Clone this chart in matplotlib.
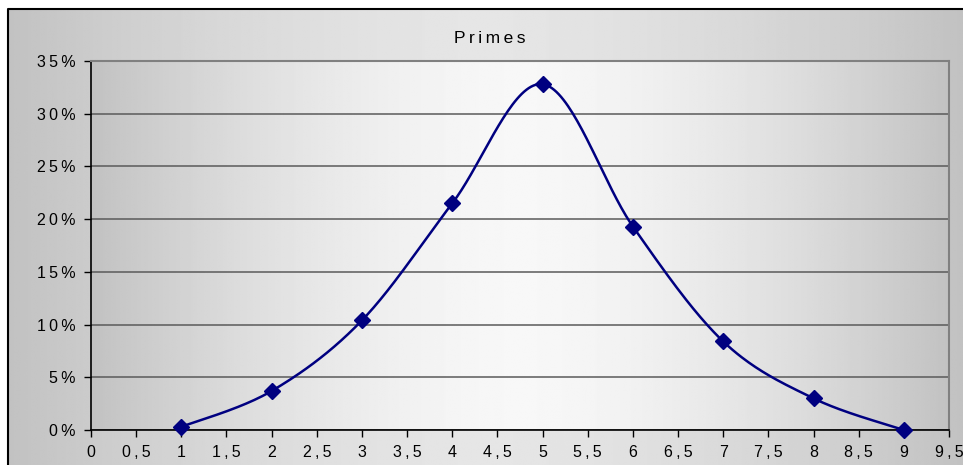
import numpy as np
import matplotlib.pyplot as plt
from matplotlib.ticker import MultipleLocator, FuncFormatter

plt.rcParams['font.family'] = ['Liberation Sans', 'DejaVu Sans']

# valeurs de la série
x_vals = [1, 2, 3, 4, 5, 6, 7, 8, 9]
y_vals = [0.3, 3.7, 10.4, 21.5, 32.8, 19.3, 8.4, 3.0, 0.0]
titre = "Primes"

ESP = '\u2009'  # espace fine entre les caractères


def espacer(txt):
    return ESP.join(txt)


def lissage(xs, ys, n=40):
    # courbe lissée type tableur : segments de Bézier cubiques (Catmull-Rom)
    p = np.column_stack([xs, ys]).astype(float)
    p = np.vstack([p[0], p, p[-1]])
    out = []
    for i in range(1, len(p) - 2):
        p0, p1, p2, p3 = p[i - 1], p[i], p[i + 1], p[i + 2]
        c1 = p1 + (p2 - p0) / 6
        c2 = p2 - (p3 - p1) / 6
        t = np.linspace(0, 1, n)[:, None]
        seg = (1 - t) ** 3 * p1 + 3 * (1 - t) ** 2 * t * c1 + 3 * (1 - t) * t ** 2 * c2 + t ** 3 * p2
        out.append(seg)
    out = np.vstack(out)
    return out[:, 0], out[:, 1]


def degrade(ax, bas, haut, extent):
    # dégradé horizontal : gris sur les bords, clair au centre
    u = np.linspace(-1, 1, 400)
    v = bas + (haut - bas) * (1 - np.abs(u) ** 1.6)
    img = np.tile(v, (2, 1))
    ax.imshow(img, cmap='gray', vmin=0, vmax=1, aspect='auto', extent=extent,
              interpolation='bilinear', zorder=0)


fig = plt.figure(figsize=(9.63, 4.65), dpi=100)
fig.patch.set_facecolor('white')

# fond de la zone de graphique
bg = fig.add_axes([0, 0, 1, 1])
bg.set_xlim(0, 963)
bg.set_ylim(465, 0)
bg.axis('off')
degrade(bg, 0.76, 0.90, (8, 963, 465, 9))
bg.plot([8, 8, 963], [465, 9, 9], color='black', lw=1.5, zorder=2)

# zone de traçage
ax = fig.add_axes([91 / 963, 1 - 430 / 465, (949 - 91) / 963, (430 - 61) / 465])
degrade(ax, 0.76, 0.97, (0, 9.5, 0, 35))

xs, ys = lissage(x_vals, y_vals)
ax.plot(xs, ys, color='#000080', lw=1.8, zorder=3, clip_on=False)
ax.plot(x_vals, y_vals, linestyle='none', marker='D', markersize=8,
        color='#000080', zorder=4, clip_on=False)

ax.set_xlim(0, 9.5)
ax.set_ylim(0, 35)
ax.xaxis.set_major_locator(MultipleLocator(0.5))
ax.yaxis.set_major_locator(MultipleLocator(5))
ax.xaxis.set_major_formatter(FuncFormatter(lambda v, p: espacer(f"{v:g}".replace('.', ','))))
ax.yaxis.set_major_formatter(FuncFormatter(lambda v, p: espacer(f"{v:.0f}%")))
ax.grid(axis='y', color='#5a5a5a', lw=1.1)
ax.set_axisbelow(True)
ax.tick_params(axis='both', direction='out', length=5, width=1, colors='black',
               labelsize=11.5, pad=6)
for s in ('left', 'bottom'):
    ax.spines[s].set_color('black')
    ax.spines[s].set_linewidth(1.2)
for s in ('top', 'right'):
    ax.spines[s].set_color('#808080')
    ax.spines[s].set_linewidth(1.5)

fig.text(490 / 963, 1 - 38 / 465, espacer(titre), ha='center', va='center', fontsize=12.5)

plt.savefig('out.png', dpi=100)
